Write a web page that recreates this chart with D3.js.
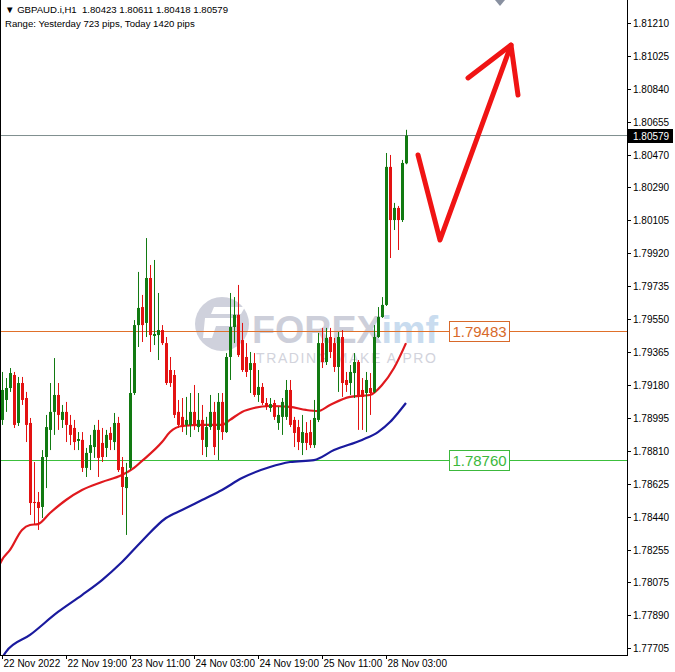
<!DOCTYPE html>
<html><head><meta charset="utf-8">
<script src="https://cdn.jsdelivr.net/npm/d3@7/dist/d3.min.js"></script>
<style>body{margin:0;background:#fff}svg{display:block}text{font-family:"Liberation Sans",Arial,sans-serif}</style>
</head><body>
<div id="chart"></div>
<script>
// ---------- DATA ----------
const symbolTitle = "▼ GBPAUD.i,H1  1.80423 1.80611 1.80418 1.80579";
const rangeText = "Range: Yesterday 723 pips, Today 1420 pips";
const opens  = [1.78984,1.79096,1.79163,1.79236,1.78967,1.79191,1.79107,1.78967,1.78524,1.78524,1.78496,1.78776,1.78928,1.79029,1.79124,1.78984,1.79029,1.78956,1.78939,1.78866,1.78872,1.78715,1.78799,1.78832,1.78928,1.78855,1.78827,1.78911,1.78860,1.78967,1.78720,1.78602,1.78715,1.79135,1.79516,1.79617,1.79528,1.79780,1.79455,1.79460,1.79488,1.79415,1.79264,1.79236,1.79029,1.79001,1.78956,1.78956,1.79029,1.78944,1.78984,1.78832,1.78944,1.79029,1.78928,1.79085,1.78916,1.79337,1.79505,1.79573,1.79432,1.79337,1.79264,1.79303,1.79124,1.79169,1.79079,1.79051,1.79079,1.78967,1.79001,1.79001,1.79152,1.78984,1.78944,1.78855,1.78911,1.78916,1.78843,1.78984,1.79415,1.79309,1.79449,1.79415,1.79281,1.79449,1.79208,1.79191,1.79247,1.79309,1.79152,1.79135,1.79163,1.79141,1.79449,1.79561,1.79629,1.80403,1.80105,1.80173,1.80105,1.80423];
const highs  = [1.79253,1.79219,1.79275,1.79253,1.79225,1.79225,1.79141,1.78995,1.78748,1.78580,1.78815,1.79012,1.79191,1.79331,1.79191,1.79068,1.79085,1.79012,1.78984,1.78916,1.78916,1.78827,1.78900,1.78956,1.78984,1.78939,1.78928,1.78944,1.79023,1.79001,1.78776,1.78743,1.79275,1.79544,1.79814,1.79685,1.80004,1.79853,1.79881,1.79696,1.79516,1.79449,1.79337,1.79264,1.79096,1.79107,1.79113,1.79135,1.79180,1.79135,1.79068,1.79001,1.79124,1.79085,1.79135,1.79135,1.79359,1.79696,1.79673,1.79741,1.79528,1.79415,1.79365,1.79359,1.79264,1.79191,1.79107,1.79107,1.79096,1.79057,1.79107,1.79208,1.79208,1.79001,1.78984,1.79012,1.78972,1.78984,1.79096,1.79472,1.79500,1.79500,1.79500,1.79444,1.79477,1.79488,1.79253,1.79292,1.79359,1.79320,1.79219,1.79253,1.79247,1.79516,1.79617,1.79673,1.80481,1.80470,1.80201,1.80184,1.80442,1.80611];
const lows   = [1.78956,1.79029,1.79141,1.78939,1.78950,1.79068,1.78860,1.78451,1.78395,1.78367,1.78434,1.78602,1.78815,1.78900,1.78928,1.78939,1.78860,1.78843,1.78815,1.78815,1.78692,1.78664,1.78703,1.78771,1.78664,1.78748,1.78776,1.78815,1.78815,1.78692,1.78451,1.78339,1.78703,1.79124,1.79393,1.79421,1.79449,1.79365,1.79404,1.79320,1.79404,1.79180,1.79169,1.78995,1.78939,1.78916,1.78900,1.78888,1.78928,1.78916,1.78787,1.78776,1.78928,1.78787,1.78759,1.78872,1.78911,1.79208,1.79415,1.79337,1.79253,1.79225,1.79135,1.79113,1.79085,1.79068,1.79040,1.79029,1.78984,1.78928,1.78900,1.78984,1.78944,1.78832,1.78815,1.78787,1.78815,1.78827,1.78827,1.78972,1.79275,1.79292,1.79331,1.79253,1.79141,1.79113,1.79141,1.79124,1.79107,1.78928,1.78928,1.78916,1.79012,1.79135,1.79444,1.79556,1.79623,1.79892,1.80049,1.79937,1.80094,1.80418];
const closes = [1.79152,1.79163,1.79247,1.78956,1.79191,1.79096,1.78956,1.78518,1.78518,1.78490,1.78776,1.78944,1.79029,1.79124,1.79012,1.79029,1.78956,1.78900,1.78860,1.78877,1.78715,1.78799,1.78843,1.78928,1.78771,1.78776,1.78900,1.78872,1.78967,1.78703,1.78608,1.78664,1.79135,1.79516,1.79612,1.79516,1.79780,1.79460,1.79466,1.79488,1.79415,1.79191,1.79191,1.79012,1.78956,1.78944,1.78984,1.79029,1.78956,1.78984,1.78872,1.78944,1.79029,1.78832,1.79085,1.78916,1.79337,1.79505,1.79573,1.79348,1.79264,1.79253,1.79303,1.79124,1.79169,1.79079,1.79057,1.79073,1.79001,1.79012,1.79085,1.79152,1.78956,1.78911,1.78860,1.78916,1.78855,1.78843,1.78995,1.79415,1.79309,1.79444,1.79365,1.79281,1.79449,1.79191,1.79180,1.79253,1.79309,1.79113,1.79113,1.79208,1.79135,1.79449,1.79561,1.79629,1.80403,1.80105,1.80173,1.80105,1.80425,1.80579];

// moving averages read at selected bars
const maRedBars   = [-1,0,2,5,7,9,12,16,20,25,30,33,35,40,42,45,50,55,57,60,63,67,72,76,79,82,87,92,95,98,101];
const maRedVals   = [1.78154,1.78199,1.78255,1.78367,1.78395,1.78400,1.78462,1.78535,1.78591,1.78636,1.78675,1.78715,1.78754,1.78860,1.78916,1.78950,1.78956,1.78956,1.78984,1.79029,1.79051,1.79062,1.79057,1.79040,1.79034,1.79068,1.79113,1.79124,1.79180,1.79275,1.79415];
const maBlueBars  = [0,1,7,14,20,25,30,35,41,45,50,55,60,67,72,78,83,90,94,97,99,101];
const maBlueVals  = [1.77649,1.77683,1.77778,1.77907,1.78002,1.78086,1.78187,1.78305,1.78434,1.78479,1.78535,1.78591,1.78658,1.78720,1.78748,1.78759,1.78815,1.78872,1.78916,1.78972,1.79023,1.79079];

const priceTicks = [1.81210,1.81025,1.80840,1.80655,1.80470,1.80290,1.80105,1.79920,1.79735,1.79550,1.79365,1.79180,1.78995,1.78810,1.78625,1.78440,1.78255,1.78075,1.77890,1.77705];
const timeTickBars = [0,16,32,48,64,80,96];
const timeTickLabels = ["22 Nov 2022","22 Nov 19:00","23 Nov 11:00","24 Nov 03:00","24 Nov 19:00","25 Nov 11:00","28 Nov 03:00"];

const currentPrice = 1.80579;
const resistance = 1.79483;
const support = 1.78760;

// hand-drawn forecast arrow (bar index, price)
const arrowBars   = [104, 109.5, 127.25];
const arrowPrices = [1.80470, 1.79993, 1.81086];
const headBars    = [116.5, 127.25, 129];
const headPrices  = [1.80902, 1.81086, 1.80806];

// ---------- CHART ----------
const W = 675, H = 672;
const plotR = 627, plotB = 655;
const svg = d3.select("#chart").append("svg").attr("width", W).attr("height", H);

const x = d3.scaleLinear().domain([0, 101]).range([2, 406]);
const y = d3.scaleLinear().domain([1.77705, 1.81210]).range([648, 23]);

svg.append("defs").append("clipPath").attr("id","plot")
  .append("rect").attr("x",0).attr("y",0).attr("width",plotR).attr("height",plotB);

const plot = svg.append("g").attr("clip-path","url(#plot)");

// watermark
const wm = plot.append("g");
wm.append("circle").attr("cx",222).attr("cy",324).attr("r",27).attr("fill","#cfd1dc");
wm.append("path").attr("d","M205,318 L240,318 L236,326 L216,326 L212,338 L203,338 Z").attr("fill","#ffffff");
wm.append("path").attr("d","M214,307 L245,307 L241,314 L211,314 Z").attr("fill","#ffffff");
const wt = wm.append("text").attr("x",252).attr("y",343).attr("font-size",38).attr("font-weight","bold")
  .attr("font-family","'Open Sans',sans-serif").attr("textLength",186).attr("lengthAdjust","spacingAndGlyphs");
wt.append("tspan").attr("fill","#cdcfda").text("FOREX");
wt.append("tspan").attr("fill","#c9dcef").text("imf");
wm.append("text").attr("x",256).attr("y",363).attr("font-size",14).attr("textLength",180).attr("lengthAdjust","spacing")
  .attr("fill","#d2d3dc").attr("font-family","'Open Sans',sans-serif").text("TRADING MAKE A PRO");

// horizontal level lines
plot.append("line").attr("x1",0).attr("x2",plotR).attr("y1",y(currentPrice)).attr("y2",y(currentPrice))
  .attr("stroke","#7f8f8f").attr("stroke-width",1);
plot.append("line").attr("x1",0).attr("x2",plotR).attr("y1",Math.round(y(resistance))+0.5).attr("y2",Math.round(y(resistance))+0.5)
  .attr("stroke","#e0702a").attr("stroke-width",1);
plot.append("line").attr("x1",0).attr("x2",plotR).attr("y1",Math.round(y(support))+0.5).attr("y2",Math.round(y(support))+0.5)
  .attr("stroke","#3cbf3c").attr("stroke-width",1);

// moving averages
const line = d3.line().curve(d3.curveMonotoneX);
plot.append("path").attr("d", line(maBlueBars.map((b,i)=>[x(b), y(maBlueVals[i])])))
  .attr("fill","none").attr("stroke","#1a1a9e").attr("stroke-width",2.2);
plot.append("path").attr("d", line(maRedBars.map((b,i)=>[x(b), y(maRedVals[i])])))
  .attr("fill","none").attr("stroke","#e0191e").attr("stroke-width",2.2);

// candles
const GREEN = "#127a12", RED = "#e31212";
const bars = opens.map((o,i)=>({i,o,h:highs[i],l:lows[i],c:closes[i]}));
const cg = plot.append("g");
cg.selectAll("line.wick").data(bars).join("line")
  .attr("x1",d=>Math.round(x(d.i))+0.5).attr("x2",d=>Math.round(x(d.i))+0.5)
  .attr("y1",d=>y(d.h)).attr("y2",d=>y(d.l))
  .attr("stroke",d=>d.c>=d.o?GREEN:RED).attr("stroke-width",1);
cg.selectAll("rect.body").data(bars).join("rect")
  .attr("x",d=>Math.round(x(d.i))-1).attr("width",3)
  .attr("y",d=>y(Math.max(d.o,d.c)))
  .attr("height",d=>Math.max(1,Math.abs(y(d.o)-y(d.c))))
  .attr("fill",d=>d.c>=d.o?GREEN:RED);

// forecast arrow
const arrowLine = d3.line();
plot.append("path").attr("d", arrowLine(arrowBars.map((b,i)=>[x(b), y(arrowPrices[i])])))
  .attr("fill","none").attr("stroke","#f01414").attr("stroke-width",5).attr("stroke-linejoin","round").attr("stroke-linecap","round");
plot.append("path").attr("d", arrowLine(headBars.map((b,i)=>[x(b), y(headPrices[i])])))
  .attr("fill","none").attr("stroke","#f01414").attr("stroke-width",5).attr("stroke-linejoin","round").attr("stroke-linecap","round");

// level label boxes
function levelBox(val, col){
  const g = plot.append("g");
  const cy = Math.round(y(val));
  g.append("rect").attr("x",449.5).attr("y",cy-9.5).attr("width",60).attr("height",20)
    .attr("fill","#fff").attr("stroke",col).attr("stroke-width",1);
  g.append("text").attr("x",479.5).attr("y",cy+6).attr("text-anchor","middle")
    .attr("font-size",15).attr("fill",col).text(val.toFixed(5));
}
levelBox(resistance, "#d8692a");
levelBox(support, "#3cb83c");

// shift marker at top
svg.append("path").attr("d","M495,0 L505,0 L500,6 Z").attr("fill","#8890a0");

// frame
svg.append("line").attr("x1",0.5).attr("x2",0.5).attr("y1",0).attr("y2",plotB).attr("stroke","#000");
svg.append("line").attr("x1",plotR+0.5).attr("x2",plotR+0.5).attr("y1",0).attr("y2",plotB+0.5).attr("stroke","#000");
svg.append("line").attr("x1",0).attr("x2",plotR+1).attr("y1",plotB+0.5).attr("y2",plotB+0.5).attr("stroke","#000");

// price axis
const pa = svg.append("g");
priceTicks.forEach(p=>{
  const yy = Math.round(y(p))+0.5;
  pa.append("line").attr("x1",plotR).attr("x2",plotR+4).attr("y1",yy).attr("y2",yy).attr("stroke","#000");
  pa.append("text").attr("x",633).attr("y",yy+3.5).attr("font-size",10).attr("fill","#000").text(p.toFixed(5));
});
// current price tag
const cpY = Math.round(y(currentPrice));
svg.append("rect").attr("x",628).attr("y",cpY-7).attr("width",45).attr("height",14).attr("fill","#000");
svg.append("text").attr("x",633).attr("y",cpY+4).attr("font-size",10).attr("fill","#fff").text(currentPrice.toFixed(5));

// time axis
const ta = svg.append("g");
timeTickBars.forEach((b,i)=>{
  const xx = Math.round(x(b))+0.5;
  ta.append("line").attr("x1",xx).attr("x2",xx).attr("y1",plotB).attr("y2",plotB+4).attr("stroke","#000");
  ta.append("text").attr("x",xx+1).attr("y",667).attr("font-size",10).attr("fill","#000").text(timeTickLabels[i]);
});

// header
svg.append("text").attr("x",5).attr("y",13).attr("font-size",9.6).attr("fill","#000").style("white-space","pre").text(symbolTitle);
svg.append("text").attr("x",5).attr("y",27).attr("font-size",9.6).attr("fill","#000").text(rangeText);
</script>
</body></html>
